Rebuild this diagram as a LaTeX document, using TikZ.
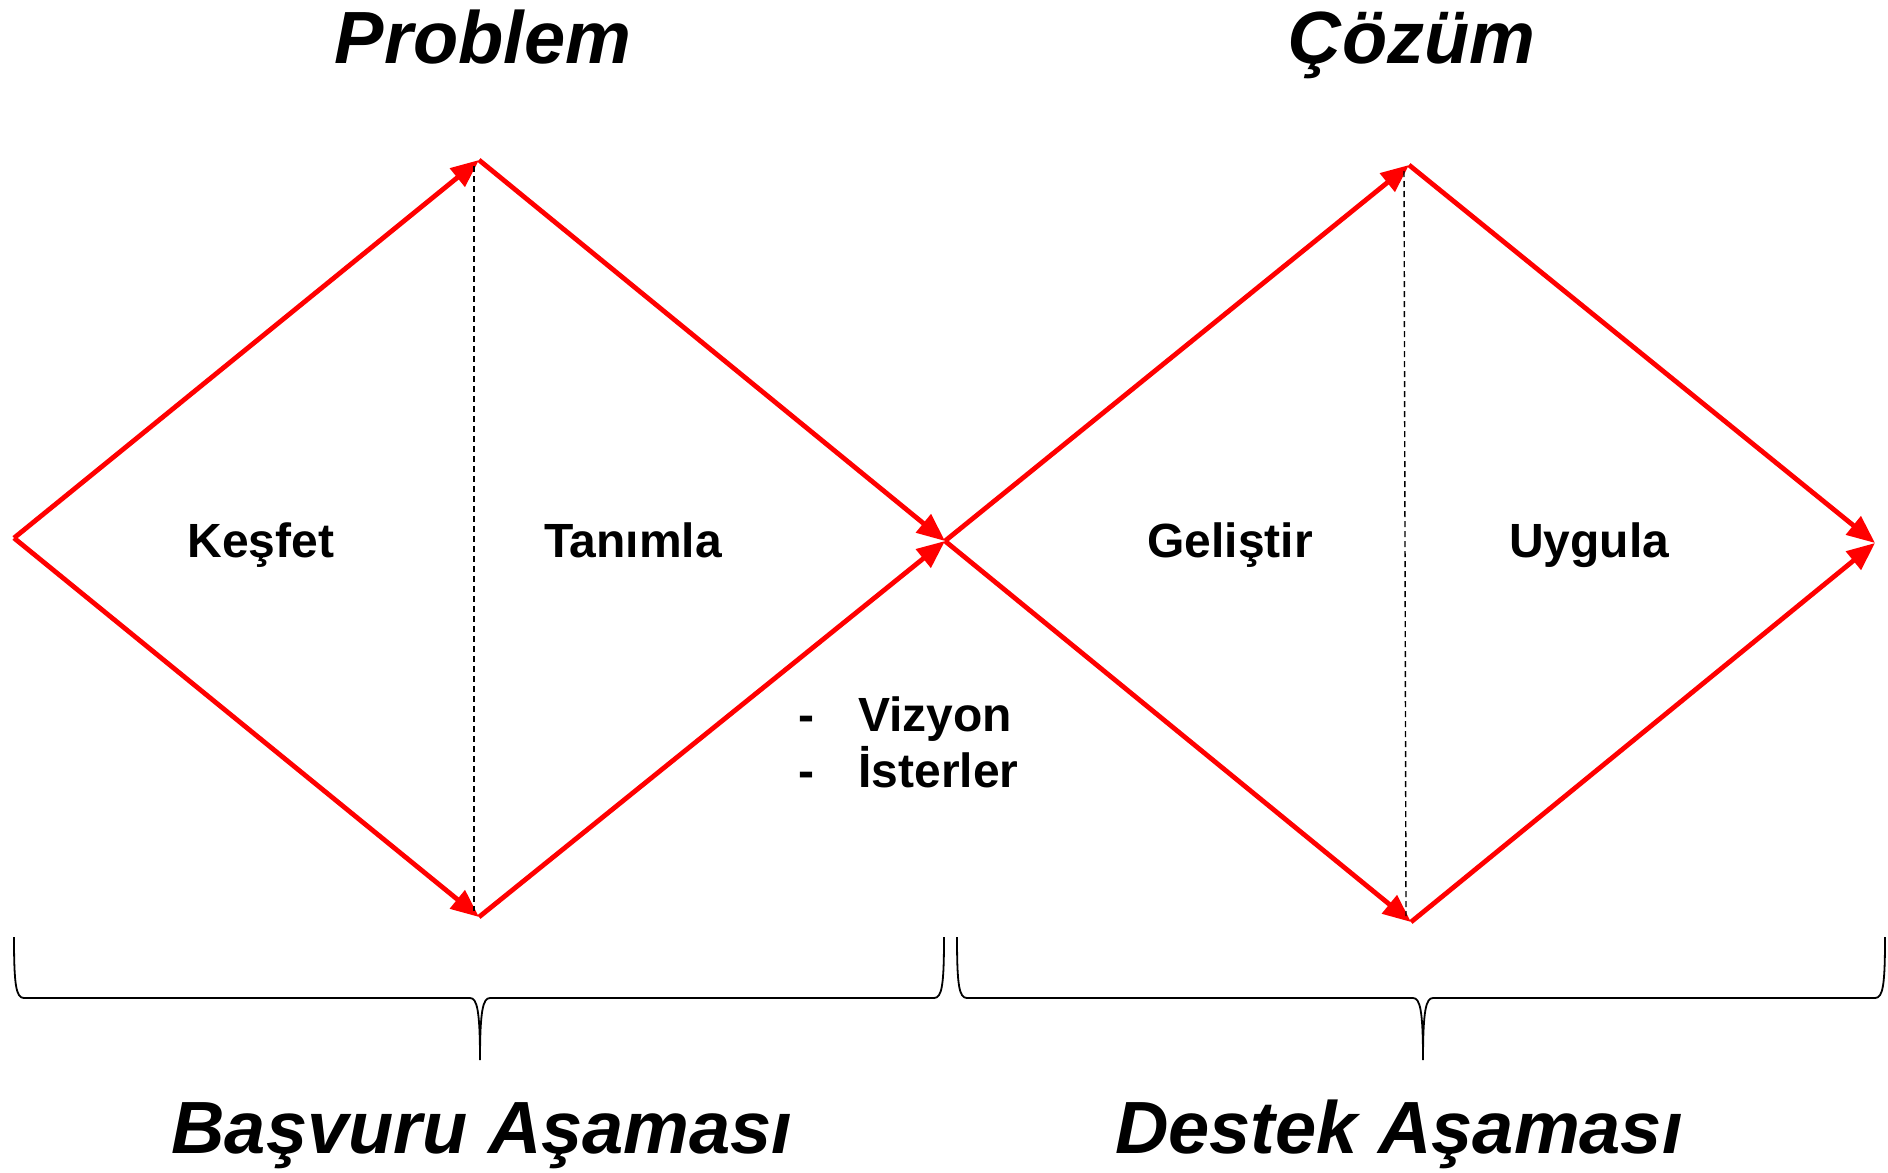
\documentclass[tikz,border=0pt]{standalone}
\usepackage{fontspec}
\setmainfont{Liberation Sans}
\usetikzlibrary{arrows.meta}
\definecolor{dred}{RGB}{255,0,0}
\tikzset{
  ar/.style  ={-{Triangle[length=14pt,width=11.5pt]}, draw=dred, line width=2.4pt},
  dsh/.style ={draw=black, line width=0.7pt, dash pattern=on 3pt off 2pt},
  lbl/.style ={font=\fontsize{24}{29}\selectfont\bfseries, inner sep=0pt, anchor=base},
  lst/.style ={lbl, anchor=base west},
  ttl/.style ={font=\fontsize{37}{44}\selectfont\bfseries\itshape, inner sep=0pt, anchor=base},
  brc/.style ={draw=black, line width=0.9pt},
}
\begin{document}
\begin{tikzpicture}[x=0.5pt, y=-0.5pt]
\useasboundingbox (0,0) rectangle (1888,1172);
% diamond corners
\coordinate (lft)  at (14,538);
\coordinate (top1) at (479,160);
\coordinate (bot1) at (479,917);
\coordinate (mid)  at (945,541);
\coordinate (top2) at (1409,165);
\coordinate (bot2) at (1411,922);
\coordinate (rgt)  at (1875,543);
\draw[ar] (lft)--(top1); \draw[ar] (lft)--(bot1);
\draw[ar] (top1)--(mid); \draw[ar] (bot1)--(mid);
\draw[ar] (mid)--(top2); \draw[ar] (mid)--(bot2);
\draw[ar] (top2)--(rgt); \draw[ar] (bot2)--(rgt);
\draw[dsh] ([xshift=-2.5pt,yshift=-3pt]top1)--([xshift=-2.5pt,yshift=3pt]bot1);
\draw[dsh] ([xshift=-2.5pt,yshift=-3pt]top2)--([xshift=-2.5pt,yshift=3pt]bot2);
% labels
\node[ttl] (prb) at (483,64)   {Problem};
\node[ttl] (czm) at (1412,64)  {Çözüm};
\node[lbl] (ksf) at (261,557)  {Keşfet};
\node[lbl] (tnm) at (633,557)  {Tanımla};
\node[lbl] (glt) at (1230,557) {Geliştir};
\node[lbl] (ugl) at (1589,557) {Uygula};
\node[lst] (viz) at (798,731)  {\makebox[30pt][l]{-}Vizyon};
\node[lst] (ist) at (798,787)  {\makebox[30pt][l]{-}İsterler};
% braces
\foreach \xa/\xm/\xb in {14/480/944, 957/1423/1885}
  \draw[brc] (\xa,937) .. controls (\xa,985) and (\xa+2,998) .. (\xa+10,998)
    -- (\xm-10,998) .. controls (\xm-3,998) and (\xm,1010) .. (\xm,1060)
    .. controls (\xm,1010) and (\xm+3,998) .. (\xm+10,998)
    -- (\xb-10,998) .. controls (\xb-2,998) and (\xb,985) .. (\xb,937);
\node[ttl] (bsv) at (482,1153)  {Başvuru Aşaması};
\node[ttl] (dst) at (1399,1153) {Destek Aşaması};
\end{tikzpicture}
\end{document}
